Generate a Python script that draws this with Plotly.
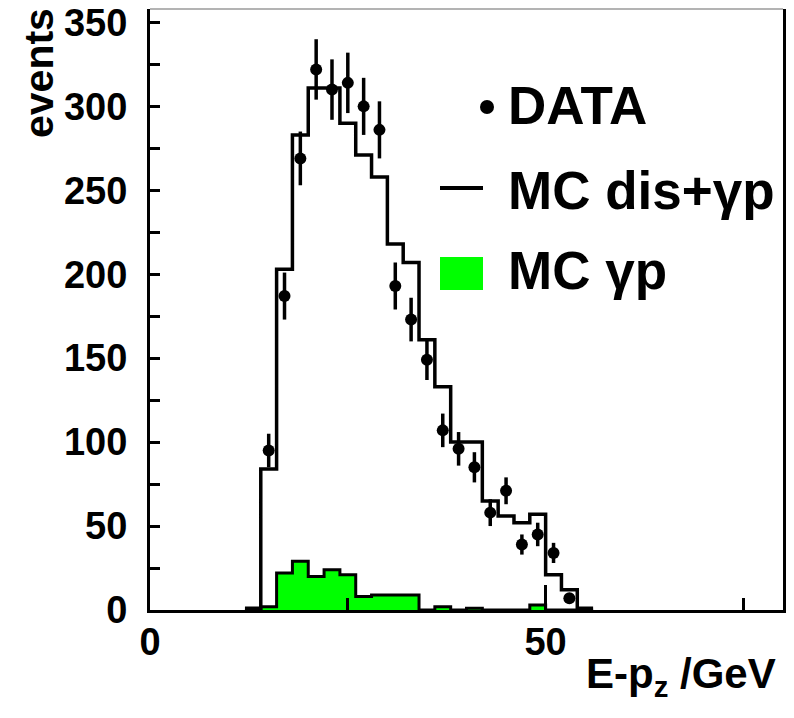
import plotly.graph_objects as go

# ---- data ----
bin_edges = [12, 14, 16, 18, 20, 22, 24, 26, 28, 30, 32, 34, 36, 38, 40, 42, 44, 46, 48, 50, 52, 54, 56]
mc_dis_gp = [1, 84, 203, 283, 311, 311, 290, 271, 258, 218, 207, 161, 133, 100, 100, 65, 56, 52, 57, 21, 12, 1]
mc_gp = [0, 2, 22, 29, 20, 24, 21, 8, 9, 9, 9, 0, 2, 0, 1, 0, 0, 0, 3, 0, 0, 0]

data_x = [15, 17, 19, 21, 23, 25, 27, 29, 31, 33, 35, 37, 39, 41, 43, 45, 47, 49, 51, 53]
data_y = [95, 187, 269, 322, 310, 314, 300, 286, 193, 173, 149, 107, 96, 85, 58, 71, 39, 45, 34, 7]
data_err = [10, 14, 16, 18, 18, 18, 17, 17, 14, 13, 12, 10, 10, 9, 8, 8, 6, 7, 6, 3]

x_ticks = [0, 50]
x_minor = [25, 75]
y_ticks = [0, 50, 100, 150, 200, 250, 300, 350]
y_minor = [25, 75, 125, 175, 225, 275, 325]

legend_labels = ["DATA", "MC dis+γp", "MC γp"]

FONT = "Liberation Sans"

fig = go.Figure()

# MC gamma-p (green filled histogram)
fig.add_trace(go.Scatter(
    x=bin_edges, y=mc_gp + [mc_gp[-1]], mode="lines", line_shape="hv",
    line=dict(color="black", width=3), fill="tozeroy", fillcolor="#00ff00",
    showlegend=False, hoverinfo="skip"))

# MC dis + gamma-p (black histogram)
fig.add_trace(go.Scatter(
    x=bin_edges, y=mc_dis_gp + [mc_dis_gp[-1]], mode="lines", line_shape="hv",
    line=dict(color="black", width=3.5), showlegend=False))

# DATA points
fig.add_trace(go.Scatter(
    x=data_x, y=data_y, mode="markers",
    marker=dict(color="black", size=12, symbol="circle"),
    error_y=dict(type="data", array=data_err, color="black", thickness=3.5, width=0),
    showlegend=False))

W0, W1 = 150, 783
H0, H1 = 9, 610


def px(xp):
    return (xp - W0) / (W1 - W0)


def py(yp):
    return (H1 - yp) / (H1 - H0)


shapes = [
    # top frame line (thin grey)
    dict(type="line", xref="paper", yref="paper", x0=0, x1=1, y0=1, y1=1,
         line=dict(color="#9a9a9a", width=1.5)),
    # legend symbols
    dict(type="circle", xref="paper", yref="paper",
         x0=px(480), x1=px(494), y0=py(114), y1=py(100),
         fillcolor="black", line=dict(color="black", width=0)),
    dict(type="line", xref="paper", yref="paper",
         x0=px(440), x1=px(483), y0=py(188), y1=py(188),
         line=dict(color="black", width=4)),
    dict(type="rect", xref="paper", yref="paper",
         x0=px(440), x1=px(483), y0=py(290), y1=py(257),
         fillcolor="#00ff00", line=dict(width=0)),
]

LEG_SIZE = 53
annotations = [
    dict(text="<b>%s</b>" % legend_labels[0], xref="paper", yref="paper",
         x=px(506), y=py(106), xanchor="left", yanchor="middle", showarrow=False,
         font=dict(family=FONT, size=LEG_SIZE, color="black")),
    dict(text="<b>%s</b>" % legend_labels[1], xref="paper", yref="paper",
         x=px(506), y=py(191), xanchor="left", yanchor="middle", showarrow=False,
         font=dict(family=FONT, size=LEG_SIZE, color="black")),
    dict(text="<b>%s</b>" % legend_labels[2], xref="paper", yref="paper",
         x=px(506), y=py(271), xanchor="left", yanchor="middle", showarrow=False,
         font=dict(family=FONT, size=LEG_SIZE, color="black")),
    dict(text="<b>events</b>", xref="paper", yref="paper",
         x=px(39), y=py(6), xanchor="center", yanchor="top", textangle=-90,
         showarrow=False, font=dict(family=FONT, size=41, color="black")),
    dict(text="<b>E-p<sub>z</sub> /GeV</b>", xref="paper", yref="paper",
         x=px(778), y=py(648), xanchor="right", yanchor="top",
         showarrow=False, font=dict(family=FONT, size=42, color="black")),
]

fig.update_layout(
    width=794, height=718, autosize=False,
    margin=dict(l=W0, r=794 - W1, t=H0, b=718 - H1, pad=0),
    paper_bgcolor="white", plot_bgcolor="white",
    shapes=shapes, annotations=annotations, showlegend=False,
    xaxis=dict(range=[0, 80], showgrid=False, zeroline=False, automargin=False,
               showline=True, linecolor="black", linewidth=3,
               tickmode="array", tickvals=x_ticks, ticktext=[str(v) for v in x_ticks],
               ticks="inside", ticklen=25, tickwidth=3, tickcolor="black",
               minor=dict(tickvals=x_minor, ticks="inside", ticklen=12, tickwidth=3, tickcolor="black"),
               tickfont=dict(family=FONT, size=38, color="black", weight="bold"),
               ticklabelstandoff=-4),
    yaxis=dict(range=[0, 358], showgrid=False, zeroline=False, automargin=False,
               showline=True, linecolor="black", linewidth=3, mirror=True,
               tickmode="array", tickvals=y_ticks, ticktext=[str(v) for v in y_ticks],
               ticks="inside", ticklen=10, tickwidth=2.5, tickcolor="black",
               minor=dict(tickvals=y_minor, ticks="inside", ticklen=10, tickwidth=2.5, tickcolor="black"),
               tickfont=dict(family=FONT, size=38, color="black", weight="bold"),
               ticklabelstandoff=12),
)

fig.write_html(
    "out.html",
    config={"displayModeBar": False},
    post_script="document.body.style.margin='0px';document.body.style.overflow='hidden';",
)
